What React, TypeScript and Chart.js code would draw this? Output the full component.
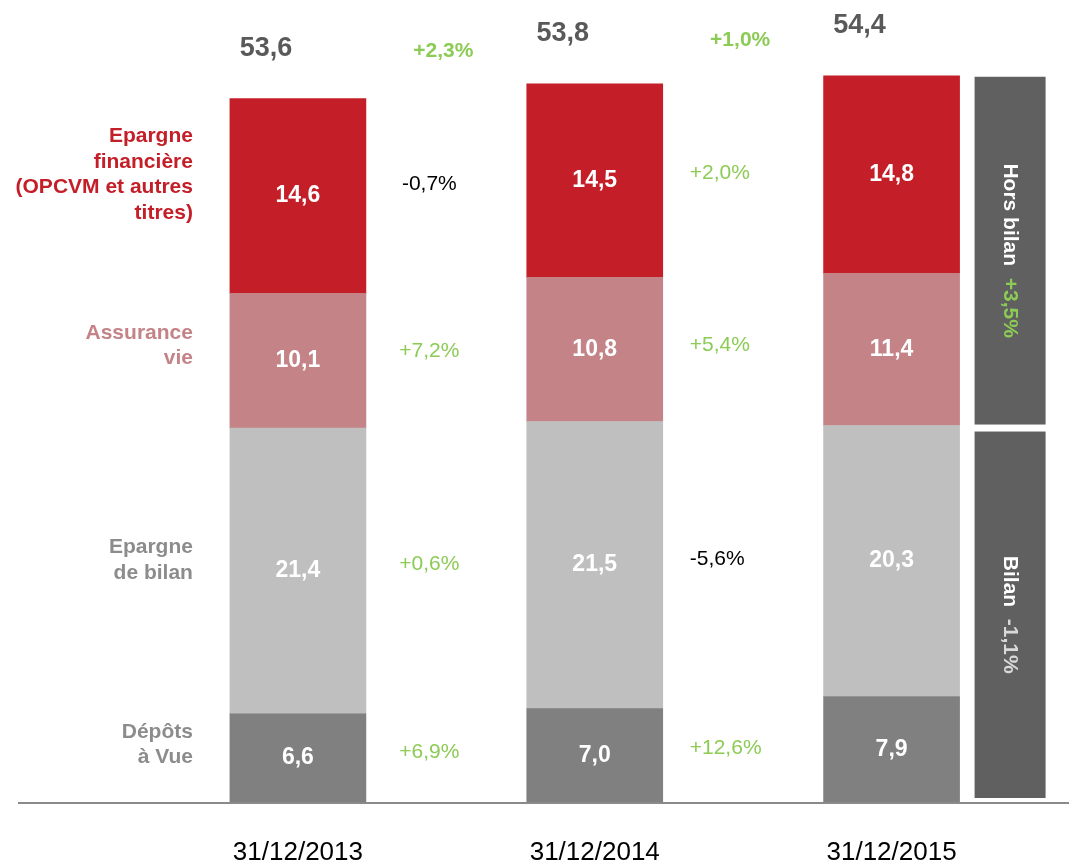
import React, { useEffect, useRef } from "react";
import { Chart, registerables } from "chart.js";

Chart.register(...registerables);

const categories = ["31/12/2013", "31/12/2014", "31/12/2015"];
const depotsAVue = [6.6, 7.0, 7.9];
const epargneBilan = [21.4, 21.5, 20.3];
const assuranceVie = [10.1, 10.8, 11.4];
const epargneFinanciere = [14.6, 14.5, 14.8];
const totals = ["53,6", "53,8", "54,4"];
const totalGrowth = ["+2,3%", "+1,0%"];
const growthDepots = ["+6,9%", "+12,6%"];
const growthBilan = ["+0,6%", "-5,6%"];
const growthAssurance = ["+7,2%", "+5,4%"];
const growthFinanciere = ["-0,7%", "+2,0%"];
const seriesLabels = [
  ["Dépôts", "à Vue"],
  ["Epargne", "de bilan"],
  ["Assurance", "vie"],
  ["Epargne", "financière", "(OPCVM et autres", "titres)"],
];
const horsBilanLabel = "Hors bilan";
const horsBilanGrowth = "+3,5%";
const bilanLabel = "Bilan";
const bilanGrowth = "-1,1%";

const FONT = '"Liberation Sans", Arial, sans-serif';
const COLORS = ["#808080", "#BFBFBF", "#C48387", "#C41E28"];
const LABEL_COLORS = ["#8C8C8C", "#8C8C8C", "#C48387", "#C41E28"];
const GREEN = "#8CCB55";
const SIDE_BOX = "#606060";

const fmt = (v: number) => v.toFixed(1).replace(".", ",");

const annotations = {
  id: "annotations",
  afterDatasetsDraw(chart: any) {
    const ctx = chart.ctx;
    const area = chart.chartArea;
    const metas = [0, 1, 2, 3].map((i) => chart.getDatasetMeta(i));
    const growth = [growthDepots, growthBilan, growthAssurance, growthFinanciere];
    ctx.save();

    // baseline
    ctx.strokeStyle = "#8A8A8A";
    ctx.lineWidth = 2;
    ctx.beginPath();
    ctx.moveTo(18, area.bottom + 1);
    ctx.lineTo(chart.width, area.bottom + 1);
    ctx.stroke();

    // segment values
    ctx.textAlign = "center";
    ctx.textBaseline = "middle";
    ctx.fillStyle = "#FFFFFF";
    ctx.font = `bold 23px ${FONT}`;
    metas.forEach((meta: any, i: number) => {
      meta.data.forEach((bar: any, j: number) => {
        const v = chart.data.datasets[i].data[j];
        ctx.fillText(fmt(v), bar.x, (bar.y + bar.base) / 2);
      });
    });

    const top = metas[3].data;
    // totals
    ctx.font = `bold 27px ${FONT}`;
    ctx.fillStyle = "#595959";
    top.forEach((bar: any, j: number) => {
      ctx.fillText(totals[j], bar.x - 32, bar.y - 50);
    });

    // total growth
    ctx.font = `bold 21px ${FONT}`;
    ctx.fillStyle = GREEN;
    for (let j = 0; j < 2; j++) {
      const a = top[j];
      const b = top[j + 1];
      const mid = (a.x + a.width / 2 + b.x - b.width / 2) / 2;
      ctx.fillText(totalGrowth[j], mid - 3, (a.y + b.y) / 2 - 40);
    }

    // segment growth
    ctx.font = `21px ${FONT}`;
    metas.forEach((meta: any, i: number) => {
      for (let j = 0; j < 2; j++) {
        const a = meta.data[j];
        const b = meta.data[j + 1];
        const y = ((a.y + a.base) / 2 + (b.y + b.base) / 2) / 2 - 4;
        const txt = growth[i][j];
        ctx.fillStyle = txt.startsWith("-") ? "#000000" : GREEN;
        if (j === 0) {
          ctx.textAlign = "center";
          const mid = (a.x + a.width / 2 + b.x - b.width / 2) / 2;
          ctx.fillText(txt, mid - 17, y);
        } else {
          ctx.textAlign = "left";
          ctx.fillText(txt, a.x + a.width / 2 + 27, y);
        }
      }
    });

    // left series labels
    const offsets = [-13, -11, -15, -21];
    ctx.textAlign = "right";
    ctx.font = `bold 21px ${FONT}`;
    metas.forEach((meta: any, i: number) => {
      const bar = meta.data[0];
      const cy = (bar.y + bar.base) / 2 + offsets[i];
      const lines = seriesLabels[i];
      const lh = 25.5;
      ctx.fillStyle = LABEL_COLORS[i];
      lines.forEach((ln: string, k: number) => {
        ctx.fillText(ln, bar.x - bar.width / 2 - 37, cy + (k - (lines.length - 1) / 2) * lh);
      });
    });

    // side boxes
    const last = top.length - 1;
    const b3 = top[last];
    const boundary = metas[1].data[last].y;
    const base = metas[0].data[last].base;
    const bx = b3.x + b3.width / 2 + 15;
    const bw = 71;
    const boxes = [
      { y0: b3.y + 1, y1: boundary - 1, label: horsBilanLabel, g: horsBilanGrowth, gc: GREEN },
      { y0: boundary + 6, y1: base - 4, label: bilanLabel, g: bilanGrowth, gc: "#D9D9D9" },
    ];
    boxes.forEach((bx0) => {
      ctx.fillStyle = SIDE_BOX;
      ctx.fillRect(bx, bx0.y0, bw, bx0.y1 - bx0.y0);
      ctx.save();
      ctx.translate(bx + bw / 2, (bx0.y0 + bx0.y1) / 2);
      ctx.rotate(Math.PI / 2);
      ctx.font = `bold 21px ${FONT}`;
      ctx.textBaseline = "middle";
      const t1 = bx0.label + "  ";
      const w1 = ctx.measureText(t1).width;
      const w2 = ctx.measureText(bx0.g).width;
      const start = -(w1 + w2) / 2;
      ctx.textAlign = "left";
      ctx.fillStyle = "#FFFFFF";
      ctx.fillText(t1, start, 0);
      ctx.fillStyle = bx0.gc;
      ctx.fillText(bx0.g, start + w1, 0);
      ctx.restore();
    });

    ctx.restore();
  },
};

export default function App() {
  const ref = useRef<HTMLCanvasElement | null>(null);
  useEffect(() => {
    if (!ref.current) return;
    const seriesData = [depotsAVue, epargneBilan, assuranceVie, epargneFinanciere];
    const names = ["Dépôts à Vue", "Epargne de bilan", "Assurance vie", "Epargne financière"];
    const chart = new Chart(ref.current, {
      type: "bar",
      data: {
        labels: categories,
        datasets: seriesData.map((d, i) => ({
          label: names[i],
          data: d,
          backgroundColor: COLORS[i],
          borderWidth: 0,
          barThickness: 136,
        })),
      },
      options: {
        responsive: false,
        animation: false,
        devicePixelRatio: 1,
        layout: { padding: { left: 149.5, right: 29, top: 1, bottom: -38.2 } },
        plugins: { legend: { display: false }, tooltip: { enabled: false } },
        scales: {
          x: {
            stacked: true,
            grid: { display: false, drawTicks: false },
            border: { display: false },
            ticks: {
              padding: 35,
              color: "#000000",
              font: { family: FONT, size: 26 },
            },
          },
          y: {
            stacked: true,
            display: false,
            min: 0,
            max: 60,
          },
        },
      },
      plugins: [annotations],
    } as any);
    return () => chart.destroy();
  }, []);
  return (
    <div style={{ position: "absolute", left: 0, top: 0, width: 1069, height: 865, background: "#fff" }}>
      <canvas ref={ref} width={1069} height={865} />
    </div>
  );
}
